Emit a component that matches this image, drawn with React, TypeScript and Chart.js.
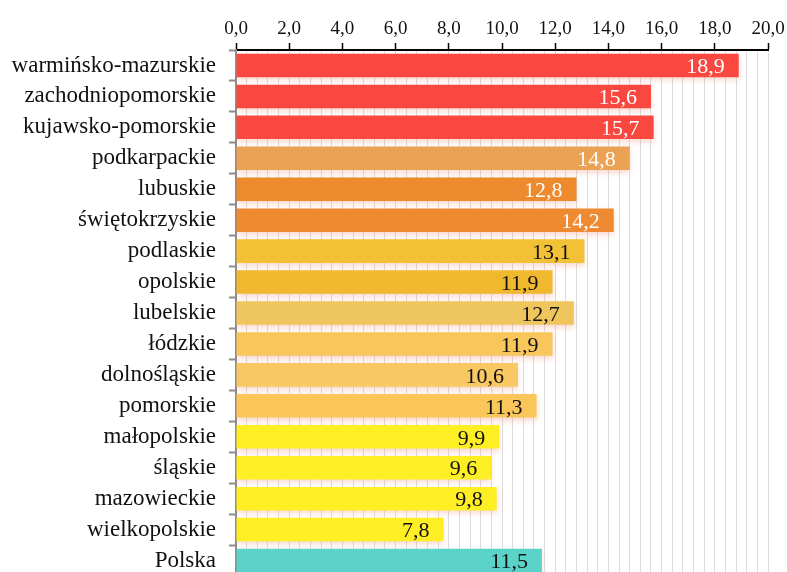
import React, { useEffect, useRef } from "react";
import { Chart, registerables } from "chart.js";

Chart.register(...registerables);

const categories = [
  "warmińsko-mazurskie",
  "zachodniopomorskie",
  "kujawsko-pomorskie",
  "podkarpackie",
  "lubuskie",
  "świętokrzyskie",
  "podlaskie",
  "opolskie",
  "lubelskie",
  "łódzkie",
  "dolnośląskie",
  "pomorskie",
  "małopolskie",
  "śląskie",
  "mazowieckie",
  "wielkopolskie",
  "Polska",
];

const values = [18.9, 15.6, 15.7, 14.8, 12.8, 14.2, 13.1, 11.9, 12.7, 11.9, 10.6, 11.3, 9.9, 9.6, 9.8, 7.8, 11.5];

const barColors = [
  "#FA4840",
  "#FA4840",
  "#FA4840",
  "#EBA254",
  "#EE8A2E",
  "#EF8A32",
  "#F2C136",
  "#F0B82C",
  "#EFC65E",
  "#F8C65A",
  "#F8C862",
  "#FAC65A",
  "#FEEE24",
  "#FEEE24",
  "#FEEE24",
  "#FEEE24",
  "#5CD3C9",
];

const labelColors = [
  "#FFFFFF", "#FFFFFF", "#FFFFFF", "#FFFFFF", "#FFFFFF", "#FFFFFF",
  "#111111", "#111111", "#111111", "#111111", "#111111", "#111111",
  "#111111", "#111111", "#111111", "#111111", "#111111",
];

const xMin = 0;
const xMax = 20;
const majorStep = 2;
const minorStep = 0.4;

const fmt = (v: number) => v.toFixed(1).replace(".", ",");
const isMajor = (v: number) => Math.abs(v / majorStep - Math.round(v / majorStep)) < 1e-6;

const FONT = "'Liberation Serif', 'Times New Roman', serif";

export default function App() {
  const ref = useRef<HTMLCanvasElement | null>(null);

  useEffect(() => {
    document.body.style.margin = "0";
    const canvas = ref.current;
    if (!canvas) return;

    const barDecor = {
      id: "barDecor",
      beforeDatasetsDraw(chart: any) {
        const ctx = chart.ctx;
        ctx.save();
        ctx.shadowColor = "rgba(235,130,100,0.30)";
        ctx.shadowBlur = 6;
        ctx.shadowOffsetY = 3;
      },
      afterDatasetsDraw(chart: any) {
        const ctx = chart.ctx;
        ctx.restore();
        const meta = chart.getDatasetMeta(0);
        ctx.save();
        ctx.font = `22px ${FONT}`;
        ctx.textAlign = "right";
        ctx.textBaseline = "middle";
        meta.data.forEach((bar: any, i: number) => {
          ctx.fillStyle = labelColors[i];
          ctx.fillText(fmt(values[i]), bar.x - 14, bar.y + 2);
        });
        ctx.restore();
      },
    };

    const chart = new Chart(canvas, {
      type: "bar",
      data: {
        labels: categories,
        datasets: [
          {
            data: values,
            backgroundColor: barColors,
            borderWidth: 0,
            categoryPercentage: 0.76,
            barPercentage: 1,
          },
        ],
      },
      options: {
        indexAxis: "y",
        animation: false,
        responsive: true,
        maintainAspectRatio: false,
        layout: { autoPadding: false, padding: { top: 0, right: 19, bottom: 0, left: 0 } },
        plugins: {
          legend: { display: false },
          tooltip: { enabled: false },
        },
        scales: {
          x: {
            type: "linear",
            position: "top",
            min: xMin,
            max: xMax,
            afterFit(scale: any) {
              scale.height = 50;
              scale.paddingLeft = 0;
              scale.paddingRight = 0;
              scale.paddingTop = 0;
              scale.paddingBottom = 0;
            },
            ticks: {
              stepSize: minorStep,
              autoSkip: false,
              maxRotation: 0,
              padding: 3,
              color: "#111111",
              font: { family: FONT, size: 19 },
              callback: (v: any) => (isMajor(Number(v)) ? fmt(Number(v)) : ""),
            },
            grid: {
              tickLength: 7,
              tickWidth: 1.5,
              tickColor: (c: any) => (c.tick && isMajor(c.tick.value) ? "#000000" : "rgba(0,0,0,0)"),
              color: (c: any) => (c.tick && c.tick.value === 0 ? "rgba(0,0,0,0)" : "rgba(110,110,110,0.24)"),
              lineWidth: 1,
            },
            border: { display: true, color: "#000000", width: 2 },
          },
          y: {
            type: "category",
            afterFit(scale: any) {
              scale.width = 236;
              scale.paddingTop = 0;
              scale.paddingBottom = 0;
              scale.paddingLeft = 0;
              scale.paddingRight = 0;
            },
            ticks: {
              autoSkip: false,
              padding: 13,
              color: "#111111",
              font: { family: FONT, size: 23 },
            },
            grid: {
              offset: true,
              drawOnChartArea: false,
              tickLength: 7,
              tickColor: "#8c8c8c",
              tickWidth: 2,
            },
            border: { display: true, color: "#8c8c8c", width: 2 },
          },
        },
      },
      plugins: [barDecor],
    });

    return () => chart.destroy();
  }, []);

  return (
    <div style={{ width: 787, height: 572, overflow: "hidden" }}>
      <div style={{ width: 787, height: 576, position: "relative" }}>
        <canvas ref={ref} />
      </div>
    </div>
  );
}
